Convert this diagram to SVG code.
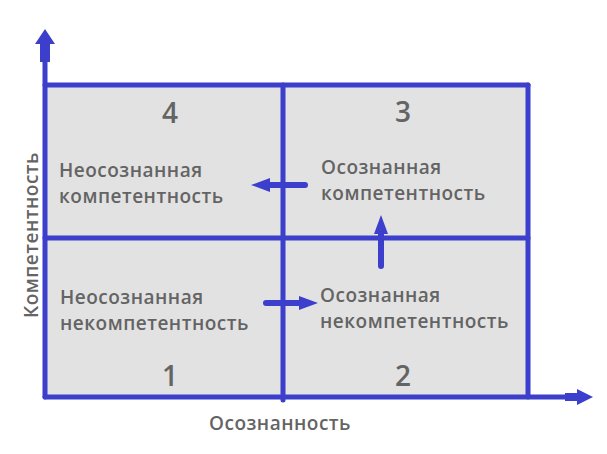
<svg xmlns="http://www.w3.org/2000/svg" width="607" height="454" viewBox="0 0 607 454">
<defs>
<style>
.ln{stroke:#3b3fcb;stroke-width:5;fill:none;stroke-linecap:round}
.ar{stroke:#3b3fcb;stroke-width:6;fill:none;stroke-linecap:round}
.hd{fill:#3b3fcb}
.t{font-family:"Open Sans","Noto Sans",sans-serif;font-weight:600;font-size:19px;letter-spacing:0.5px;fill:#646464}
.n{font-family:"Open Sans","Noto Sans",sans-serif;font-weight:600;font-size:28px;fill:#646464;text-anchor:middle}
</style>
</defs>
<rect width="607" height="454" fill="#ffffff"/>
<rect x="45" y="85" width="483" height="312" fill="#e2e2e2"/>
<g id="q4"><text class="n" x="170" y="123">4</text><text class="t" x="59" y="177">Неосознанная</text><text class="t" x="59" y="203">компетентность</text></g>
<g id="q3"><text class="n" x="403" y="122">3</text><text class="t" x="321" y="174">Осознанная</text><text class="t" x="321" y="200">компетентность</text></g>
<g id="q1"><text class="n" x="170" y="386">1</text><text class="t" x="60" y="304">Неосознанная</text><text class="t" x="60" y="330">некомпетентность</text></g>
<g id="q2"><text class="n" x="403" y="386">2</text><text class="t" x="320" y="302">Осознанная</text><text class="t" x="320" y="328">некомпетентность</text></g>
<g id="axes">
<text class="t" x="280" y="430" text-anchor="middle">Осознанность</text>
<text class="t" x="0" y="0" text-anchor="middle" transform="translate(38,235) rotate(-90)">Компетентность</text>
</g>
<g id="connectors">
<line class="ln" x1="45" y1="397" x2="45" y2="50"/>
<polygon class="hd" points="45,29 55,44 50,44 50,62 40,62 40,44 35,44"/>
<line class="ln" x1="45" y1="397" x2="570" y2="397"/>
<polygon class="hd" points="593,397 577,389 577,393 565,393 565,401 577,401 577,405"/>
<line class="ln" x1="45" y1="85" x2="528" y2="85"/>
<line class="ln" x1="45" y1="238" x2="528" y2="238"/>
<line class="ln" x1="528" y1="85" x2="528" y2="397"/>
<line class="ln" x1="283" y1="85" x2="283" y2="400"/>
<line class="ar" x1="305" y1="185" x2="265" y2="185"/>
<polygon class="hd" points="251,185 270,178 270,192"/>
<line class="ar" x1="381" y1="266" x2="381" y2="228"/>
<polygon class="hd" points="381,215 374,234 388,234"/>
<line class="ar" x1="266" y1="303" x2="305" y2="303"/>
<polygon class="hd" points="318,303 299,296 299,310"/>
</g>
</svg>
